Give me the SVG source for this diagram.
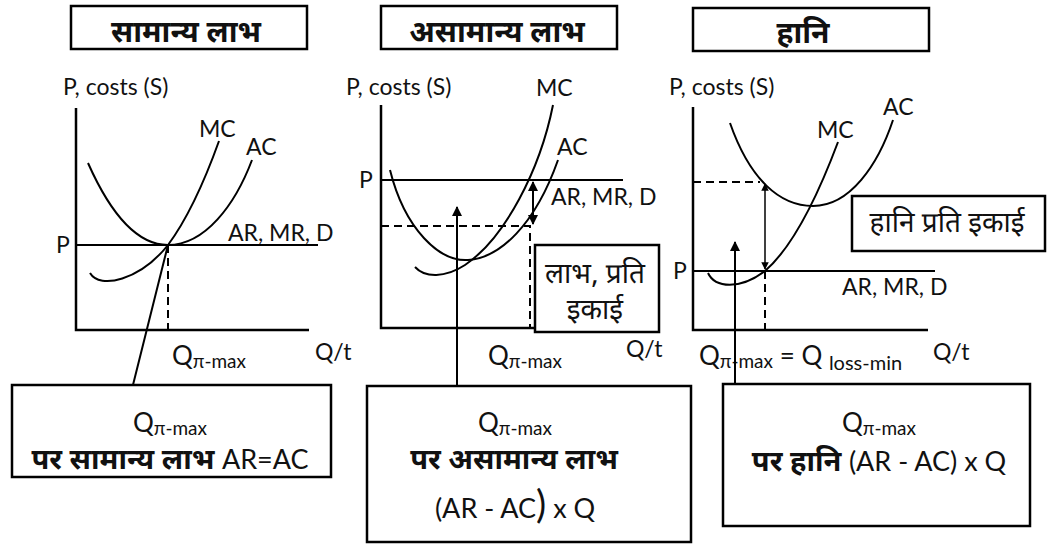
<svg xmlns="http://www.w3.org/2000/svg" width="1055" height="544" viewBox="0 0 1055 544">
<defs>
<style>
.bg{fill:#fff}
.box{fill:#fff;stroke:#000;stroke-width:2.5}
.ln{fill:none;stroke:#000;stroke-width:2}
.ax{fill:none;stroke:#000;stroke-width:2.5}
.dash{fill:none;stroke:#000;stroke-width:2;stroke-dasharray:8 5}
.lat{font-family:Lato,"Open Sans","Liberation Sans",sans-serif;font-size:23px;fill:#111}
.q{font-size:26px}
.sub{font-size:19px}
.big{font-size:27px}
.hi{font-family:"Noto Sans Devanagari","Lohit Devanagari","Noto Sans",sans-serif;fill:#111}
.ttl{font-size:30px;font-weight:bold}
.hb{font-size:29px;font-weight:bold}
.hn{font-size:28px}
</style>
<marker id="ah" viewBox="0 0 10 10" refX="9" refY="5" markerWidth="5" markerHeight="5" orient="auto-start-reverse" markerUnits="strokeWidth">
<path d="M0,0 L10,5 L0,10 z" fill="#000"/>
</marker>
</defs>
<rect class="bg" x="0" y="0" width="1055" height="544"/>

<g id="panel1">
<rect class="box" x="71" y="6" width="236" height="43"/>
<text class="hi ttl" x="186" y="42" text-anchor="middle">सामान्य लाभ</text>
<text class="lat" x="63" y="95">P, costs (S)</text>
<path class="ax" d="M76,108 V330 H309"/>
<path class="ln" d="M76,245 H318"/>
<text class="lat" x="56" y="253">P</text>
<path class="ln" d="M88,163 C108,208 135,245 168,245 C205,245 235,205 252,160"/>
<path class="ln" d="M90,273 C100,290 140,280 168,245 C188,218 205,180 219,141"/>
<path class="dash" d="M168,245 V330"/>
<text class="lat" x="199" y="137">MC</text>
<text class="lat" x="246" y="155">AC</text>
<text class="lat" x="228" y="241">AR, MR, D</text>
<text class="lat q" x="172" y="365">Q<tspan class="sub" dy="3">π-max</tspan></text>
<text class="lat" x="315" y="360">Q/t</text>
</g>

<g id="panel2">
<rect class="box" x="381" y="6" width="236" height="43"/>
<text class="hi ttl" x="497" y="42" text-anchor="middle">असामान्य लाभ</text>
<text class="lat" x="346" y="95">P, costs (S)</text>
<text class="lat" x="536" y="96">MC</text>
<path class="ax" d="M381,105 V328 H613"/>
<path class="ln" d="M381,180 H623"/>
<text class="lat" x="359" y="188">P</text>
<path class="ln" d="M390,170 C405,230 440,262 468,260 C500,258 535,225 558,160"/>
<path class="ln" d="M415,267 C425,278 445,278 465,265 C505,238 540,170 553,105"/>
<path class="dash" d="M381,226 H530 V328"/>
<text class="lat" x="557" y="155">AC</text>
<text class="lat" x="551" y="205">AR, MR, D</text>
<text class="lat q" x="488" y="365">Q<tspan class="sub" dy="3">π-max</tspan></text>
<text class="lat" x="626" y="357">Q/t</text>
</g>
<g id="profit-box">
<rect class="box" x="535" y="245" width="124" height="87"/>
<text class="hi hn" x="595" y="283" text-anchor="middle">लाभ, प्रति</text>
<text class="hi hn" x="595" y="319" text-anchor="middle">इकाई</text>
</g>

<g id="panel3">
<rect class="box" x="693" y="8" width="236" height="43"/>
<text class="hi ttl" x="803" y="43" text-anchor="middle">हानि</text>
<text class="lat" x="669" y="95">P, costs (S)</text>
<path class="ax" d="M693,107 V330 H928"/>
<path class="ln" d="M693,271 H935"/>
<text class="lat" x="673" y="279">P</text>
<path class="ln" d="M730,123 C750,180 780,206 813,206 C850,206 878,165 893,120"/>
<path class="ln" d="M708,273 C715,288 740,290 765,271 C795,245 820,190 838,142"/>
<path class="dash" d="M693,182 H760"/>
<path class="dash" d="M765,271 V330"/>
<text class="lat" x="817" y="138">MC</text>
<text class="lat" x="883" y="115">AC</text>
<text class="lat" x="842" y="295">AR, MR, D</text>
<text class="lat q" x="699" y="365">Q<tspan class="sub" dy="3">π-max</tspan><tspan dy="-3"> = Q </tspan><tspan class="sub" dy="5" style="font-size:20px">loss-min</tspan></text>
<text class="lat" x="933" y="360">Q/t</text>
</g>
<g id="loss-box">
<rect class="box" x="852" y="196" width="193" height="55"/>
<text class="hi hn" x="947" y="232" text-anchor="middle">हानि प्रति इकाई</text>
</g>

<g id="bottom1">
<rect class="box" x="12" y="385" width="319" height="92"/>
<text class="lat q" x="170" y="432" text-anchor="middle">Q<tspan class="sub" dy="3">π-max</tspan></text>
<text x="170" y="469" text-anchor="middle"><tspan class="hi hb">पर सामान्य लाभ </tspan><tspan class="lat big">AR=AC</tspan></text>
</g>
<g id="bottom2">
<rect class="box" x="367" y="386" width="324" height="156"/>
<text class="lat q" x="515" y="432" text-anchor="middle">Q<tspan class="sub" dy="3">π-max</tspan></text>
<text class="hi hb" x="514" y="469" text-anchor="middle">पर असामान्य लाभ</text>
<text class="lat big" x="515" y="518" text-anchor="middle">(AR - AC<tspan style="font-size:38px">)</tspan> x Q</text>
</g>
<g id="bottom3">
<rect class="box" x="723" y="384" width="307" height="142"/>
<text class="lat q" x="879" y="432" text-anchor="middle">Q<tspan class="sub" dy="3">π-max</tspan></text>
<text x="879" y="471" text-anchor="middle"><tspan class="hi hb">पर हानि </tspan><tspan class="lat big">(AR - AC) x Q</tspan></text>
</g>

<g id="connectors">
<path class="ln" d="M133,385 L168,245"/>
<path class="ln" d="M457,386 V207" marker-end="url(#ah)"/>
<path class="ln" d="M533,182 V224" marker-start="url(#ah)" marker-end="url(#ah)"/>
<path class="ln" style="stroke-width:1.5" d="M765,184 V269" marker-start="url(#ah)" marker-end="url(#ah)"/>
<path class="ln" d="M735,384 V242" marker-end="url(#ah)"/>
</g>
</svg>
